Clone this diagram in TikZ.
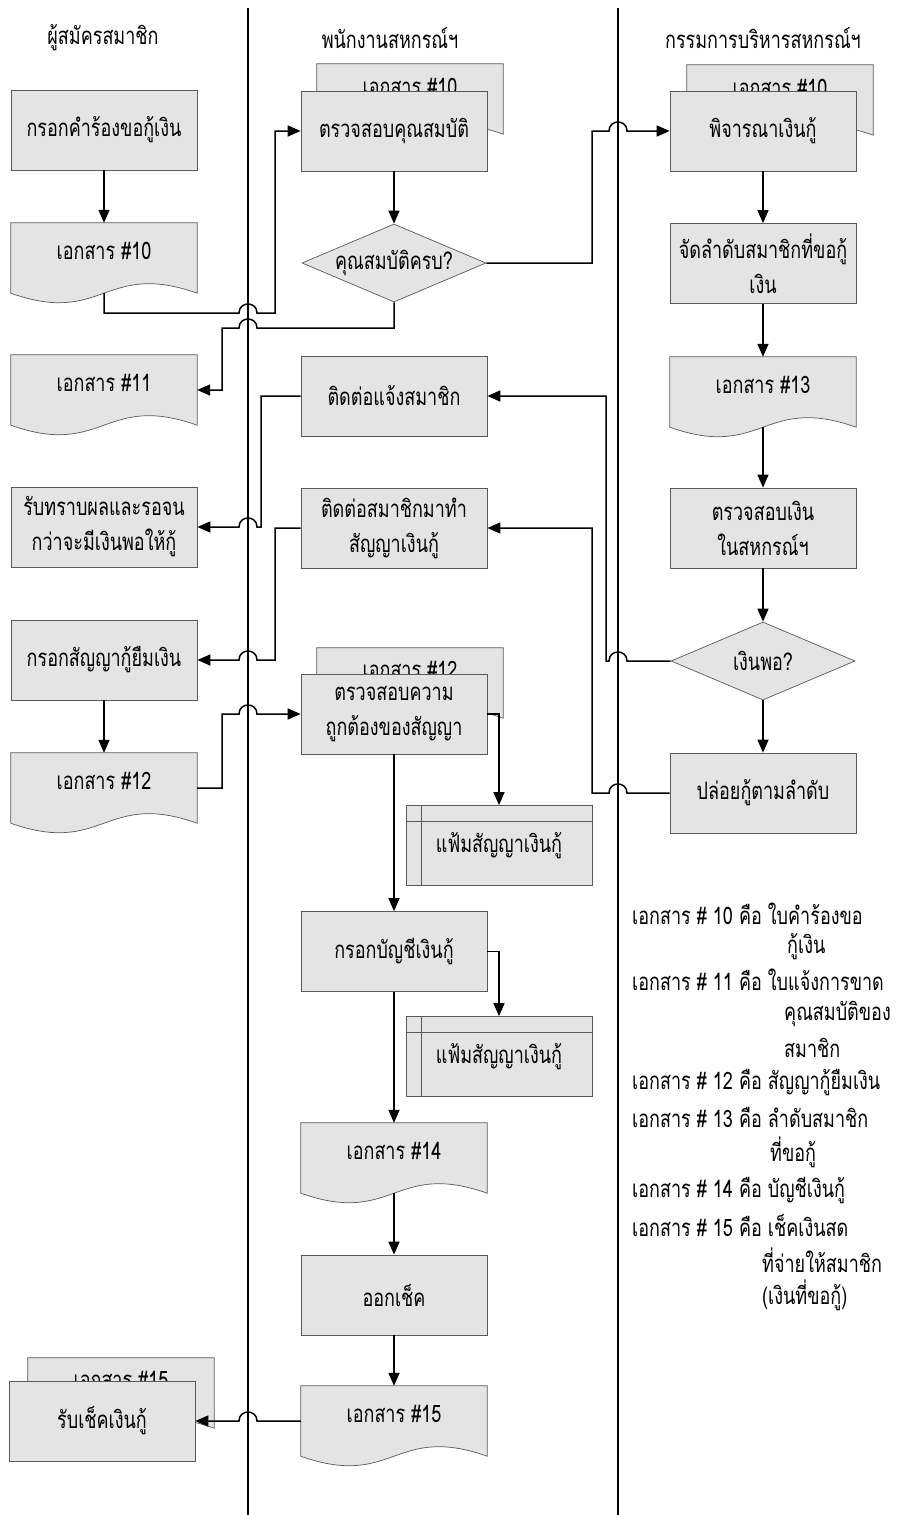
\documentclass[tikz,border=0pt]{standalone}
\usepackage{fontspec}
\newfontfamily\thaifont[Script=Thai,FakeStretch=0.75]{Loma}
\usetikzlibrary{arrows.meta,calc,shapes.geometric}
\definecolor{shapefill}{HTML}{E4E4E4}
\definecolor{shapeedge}{HTML}{5A5A5A}
\newcommand\hopRL[2]{-- (#1+9,#2) .. controls (#1+9,#2-12) and (#1-9,#2-12) .. (#1-9,#2)}
\newcommand\hopLR[2]{-- (#1-9,#2) .. controls (#1-9,#2-12) and (#1+9,#2-12) .. (#1+9,#2)}
\newcommand\mydoc[5][28]{%
  \node[docbase] (#2) at (#3,#4+35) {};
  \draw[shapeln] (#2.north west) -- (#2.south west)
     .. controls ($(#2.south)+(0,33)$) and ($(#2.south)+(0,-33)$) .. (#2.south east)
     -- (#2.north east) -- cycle;
  \node (#2t) at ($(#2.north)+(0,#1)$) {#5};
}
\newcommand\myfile[4]{%
  \node[box] (#1) at (#2,#3) {#4};
  \draw[shapeedge,line width=0.7pt] ($(#1.north west)+(0,16)$) -- ($(#1.north east)+(0,16)$);
  \draw[shapeedge,line width=0.7pt] ($(#1.north west)+(16,0)$) -- ($(#1.south west)+(16,0)$);
}
\begin{document}
\begin{tikzpicture}[x=1pt,y=-1pt,
  every node/.style={font=\thaifont\fontsize{24}{35}\selectfont, inner sep=0pt, align=center},
  box/.style={draw=shapeedge, fill=shapefill, line width=0.7pt, minimum width=186pt, minimum height=80pt},
  docbase/.style={draw=none, minimum width=186pt, minimum height=70pt},
  shapeln/.style={draw=shapeedge, fill=shapefill, line width=0.7pt},
  dia/.style={shape=diamond, draw=shapeedge, fill=shapefill, line width=0.7pt, minimum width=184pt, minimum height=78pt},
  conn/.style={draw=black, line width=1.5pt, -{Triangle[length=13pt,width=11pt]}},
  lane/.style={draw=black, line width=1.5pt},
  legend/.style={anchor=west}
]
\fill[white] (0,0) rectangle (898,1515);
\useasboundingbox (0,0) rectangle (898,1515);

% lanes
\coordinate (laneAtop) at (248,8);
\coordinate (laneAbot) at (248,1515);
\coordinate (laneBtop) at (618,8);
\coordinate (laneBbot) at (618,1515);
\draw[lane] (laneAtop) -- (laneAbot);
\draw[lane] (laneBtop) -- (laneBbot);

% headers
\node (h1) at (103,38) {ผู้สมัครสมาชิก};
\node (h2) at (390,38) {พนักงานสหกรณ์ฯ};
\node (h3) at (763,38) {กรรมการบริหารสหกรณ์ฯ};

% left lane
\node[box] (req) at (104,130) {กรอกคำร้องขอกู้เงิน};
\mydoc{d10}{104}{223}{เอกสาร \#10}
\mydoc{d11}{104}{355}{เอกสาร \#11}
\node[box] (wait) at (104,527) {รับทราบผลและรอจน\\กว่าจะมีเงินพอให้กู้};
\node[box] (fill) at (104,660) {กรอกสัญญากู้ยืมเงิน};
\mydoc{d12}{104}{753}{เอกสาร \#12}
\mydoc[22]{bd15}{121}{1358}{เอกสาร \#15}
\node[box] (receive) at (102,1421) {รับเช็คเงินกู้};

% centre lane
\mydoc[23]{bd10a}{410}{64}{เอกสาร \#10}
\node[box] (chk) at (394,131) {ตรวจสอบคุณสมบัติ};
\node[dia] (dia1) at (394,263) {};
\node (dia1t) at (394,263) {คุณสมบัติครบ?};
\node[box] (notify) at (394,396) {ติดต่อแจ้งสมาชิก};
\node[box] (contact) at (394,528) {ติดต่อสมาชิกมาทำ\\สัญญาเงินกู้};
\mydoc[22]{bd12}{410}{648}{เอกสาร \#12}
\node[box] (verify) at (394,714) {ตรวจสอบความ\\ถูกต้องของสัญญา};
\myfile{file1}{499}{845.5}{แฟ้มสัญญาเงินกู้}
\node[box] (ledger) at (394,951.5) {กรอกบัญชีเงินกู้};
\myfile{file2}{499}{1056.5}{แฟ้มสัญญาเงินกู้}
\mydoc{d14}{394}{1123}{เอกสาร \#14}
\node[box] (cheque) at (394,1295) {ออกเช็ค};
\mydoc{d15}{394}{1386}{เอกสาร \#15}

% right lane
\mydoc[23]{bd10b}{780}{65}{เอกสาร \#10}
\node[box] (consider) at (763,131) {พิจารณาเงินกู้};
\node[box] (rank) at (763,263.5) {จัดลำดับสมาชิกที่ขอกู้\\เงิน};
\mydoc{d13}{763}{357}{เอกสาร \#13}
\node[box] (checkmoney) at (763,528) {ตรวจสอบเงิน\\ในสหกรณ์ฯ};
\node[dia] (dia2) at (763,661) {};
\node (dia2t) at (763,661) {เงินพอ?};
\node[box] (release) at (763,793) {ปล่อยกู้ตามลำดับ};

% legend
\node[legend] (g1) at (632,914) {เอกสาร \# 10 คือ ใบคำร้องขอ};
\node[legend] (g2) at (787,947) {กู้เงิน};
\node[legend] (g3) at (632,980) {เอกสาร \# 11 คือ ใบแจ้งการขาด};
\node[legend] (g4) at (784,1014) {คุณสมบัติของ};
\node[legend] (g5) at (784,1048) {สมาชิก};
\node[legend] (g6) at (632,1083) {เอกสาร \# 12 คือ สัญญากู้ยืมเงิน};
\node[legend] (g7) at (632,1117) {เอกสาร \# 13 คือ ลำดับสมาชิก};
\node[legend] (g8) at (770,1152) {ที่ขอกู้};
\node[legend] (g9) at (632,1190) {เอกสาร \# 14 คือ บัญชีเงินกู้};
\node[legend] (g10) at (632,1225) {เอกสาร \# 15 คือ เช็คเงินสด};
\node[legend] (g11) at (762,1260) {ที่จ่ายให้สมาชิก};
\node[legend] (g12) at (762,1295) {(เงินที่ขอกู้)};

% connectors
\draw[conn] (req.south) -- (d10.north);
\draw[conn] (d10.south) -- (104,313) \hopLR{248}{313} -- (275,313) -- (275,131) -- (chk.west);
\draw[conn] (chk.south) -- (dia1.north);
\draw[conn] (dia1.south) -- (394,328) \hopRL{248}{328} -- (222,328) |- (d11.east);
\draw[conn] (dia1.east) -- (592,263) -- (592,131) \hopLR{618}{131} -- (consider.west);
\draw[conn] (consider.south) -- (rank.north);
\draw[conn] (rank.south) -- (d13.north);
\draw[conn] (d13.south) -- (checkmoney.north);
\draw[conn] (checkmoney.south) -- (dia2.north);
\draw[conn] (dia2.south) -- (release.north);
\draw[conn] (dia2.west) \hopRL{618}{661} -- (606,661) -- (606,396) -- (notify.east);
\draw[conn] (release.west) \hopRL{618}{793} -- (592,793) -- (592,528) -- (contact.east);
\draw[conn] (notify.west) -- (261,396) -- (261,527) \hopRL{248}{527} -- (wait.east);
\draw[conn] (contact.west) -- (275,528) -- (275,660) \hopRL{248}{660} -- (fill.east);
\draw[conn] (fill.south) -- (d12.north);
\draw[conn] (d12.east) -- (222,788) -- (222,714) \hopLR{248}{714} -- (verify.west);
\draw[conn] (verify.east) -| (file1.north);
\draw[conn] (verify.south) -- (ledger.north);
\draw[conn] (ledger.east) -| (file2.north);
\draw[conn] (ledger.south) -- (d14.north);
\draw[conn] (d14.south) -- (cheque.north);
\draw[conn] (cheque.south) -- (d15.north);
\draw[conn] (d15.west) \hopRL{248}{1421} -- (receive.east);
\end{tikzpicture}
\end{document}
